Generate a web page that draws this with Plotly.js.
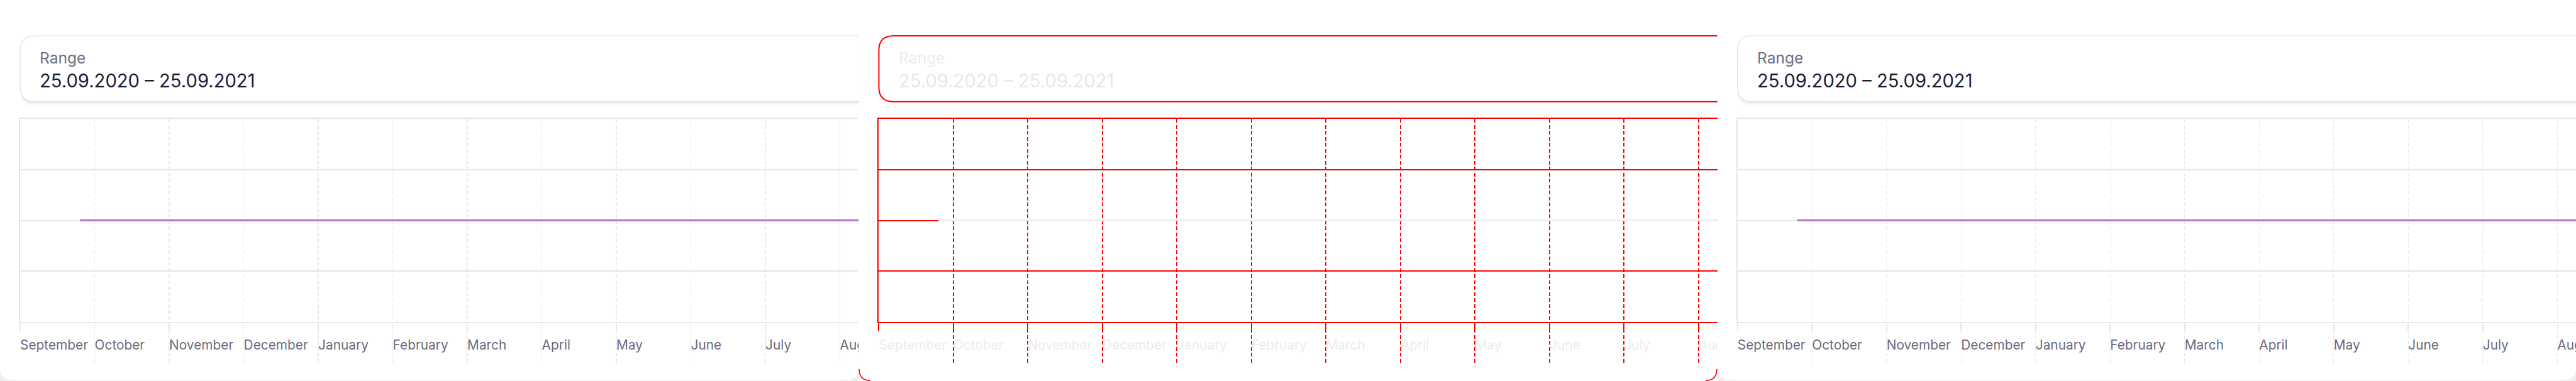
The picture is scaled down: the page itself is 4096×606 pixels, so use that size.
<!DOCTYPE html>
<html>
<head>
<meta charset="utf-8">
<script src="https://cdn.plot.ly/plotly-3.0.1.min.js"></script>
<style>
html,body{margin:0;padding:0;background:#ffffff;overflow:hidden}
#chart{width:4096px;height:606px}
</style>
</head>
<body>
<div id="chart"></div>
<script>
// ---------- data ----------
const rangeLabel = 'Range';
const rangeText = '25.09.2020 – 25.09.2021';
const monthLabels = ['September','October','November','December','January','February','March','April','May','June','July','August'];
const monthTicks = [0,1,2,3,4,5,6,7,8,9,10,11];
const seriesDates = ['2020-09-25','2021-09-25'];
const seriesValues = [0,0];
const yTicks = [-2,-1,0,1,2];
const panelKinds = ['expected','diff','received'];

// ---------- geometry (reference px, 4248x628) ----------
const RW = 4248, RH = 628, S = 0.964;
const SLOT = 1416, LEFT = 33.3;
const PLOT_TOP = 196, PLOT_BOT = 530.5;
const LABEL_TOP = 542, LABEL_BOT = 600;
const MONTH_PX = 122.9;
const PX = x => x / RW;
const PY = y => 1 - y / RH;
const P = (x, y) => PX(x).toFixed(6) + ',' + PY(y).toFixed(6);

function monthIndex(d) {
  const [y, m, day] = d.split('-').map(Number);
  const dim = new Date(y, m, 0).getDate();
  return (y - 2020) * 12 + (m - 9) + (day - 1) / dim;
}

function openCard(x0, y0, x1, y1, r) {
  return 'M' + P(x1, y0) + ' L' + P(x0 + r, y0) + ' Q' + P(x0, y0) + ' ' + P(x0, y0 + r) +
         ' L' + P(x0, y1 - r) + ' Q' + P(x0, y1) + ' ' + P(x0 + r, y1) + ' L' + P(x1, y1);
}
function outerCard(x0, y0, x1, y1, r) {
  return 'M' + P(x0, y0) + ' L' + P(x1, y0) + ' L' + P(x1, y1 - r) + ' Q' + P(x1, y1) + ' ' + P(x1 - r, y1) +
         ' L' + P(x0 + r, y1) + ' Q' + P(x0, y1) + ' ' + P(x0, y1 - r) + ' Z';
}
function arc(x0, y0, cx, cy, x1, y1) {
  return 'M' + P(x0, y0) + ' Q' + P(cx, cy) + ' ' + P(x1, y1);
}

const data = [];
const shapes = [];
const annotations = [];
const layout = {
  width: 4096, height: 606,
  margin: {l: 0, r: 0, t: 0, b: 0, pad: 0},
  paper_bgcolor: '#ffffff', plot_bgcolor: 'rgba(0,0,0,0)',
  showlegend: false, hovermode: false,
  font: {family: 'Inter, "Noto Sans", sans-serif'}
};

const xRange = [0, (SLOT - LEFT) / MONTH_PX];
const FONT = 'Inter, "Noto Sans", sans-serif';

panelKinds.forEach((kind, i) => {
  const ox = i * SLOT;
  const diff = kind === 'diff';
  const sfx = i === 0 ? '' : String(i + 1);
  const lsfx = String(i + 4);
  const lineCol = diff ? '#ff0000' : '#e6e6e6';
  const gridCol = diff ? '#ff0000' : '#e9e9e9';
  const tickFontCol = diff ? '#ececee' : '#6b6b80';

  // outer card
  if (!diff) {
    shapes.push({type: 'rect', xref: 'paper', yref: 'paper', layer: 'below',
      x0: PX(ox), x1: PX(ox + SLOT), y0: PY(628), y1: PY(596),
      fillcolor: '#efefef', line: {width: 0}});
  }
  shapes.push({type: 'path', xref: 'paper', yref: 'paper', layer: 'below',
    path: outerCard(ox, -10, ox + SLOT, 626.8, 21),
    fillcolor: '#ffffff', line: {width: 0}});
  if (diff) {
    shapes.push({type: 'path', xref: 'paper', yref: 'paper', layer: 'above',
      path: arc(ox + 0.8, 608, ox + 0.8, 627.2, ox + 19, 627.2),
      line: {color: '#ff0000', width: 1.6}});
    shapes.push({type: 'path', xref: 'paper', yref: 'paper', layer: 'above',
      path: arc(ox + SLOT - 0.8, 608, ox + SLOT - 0.8, 627.2, ox + SLOT - 19, 627.2),
      line: {color: '#ff0000', width: 1.6}});
  }

  // range card
  const cx0 = ox + LEFT, cy0 = 59, cy1 = 167.5, cx1 = ox + SLOT;
  if (!diff) {
    [[2, 0.035], [4.5, 0.03], [8, 0.02]].forEach(([dy, a]) => {
      shapes.push({type: 'path', xref: 'paper', yref: 'paper', layer: 'below',
        path: openCard(cx0, cy0 + dy, cx1, cy1 + dy, 24),
        fillcolor: 'rgba(0,0,0,' + a + ')', line: {width: 0}});
    });
  }
  shapes.push({type: 'path', xref: 'paper', yref: 'paper', layer: 'below',
    path: openCard(cx0, cy0, cx1, cy1, 24),
    fillcolor: '#ffffff', line: {color: diff ? '#ff0000' : '#e6e6e8', width: diff ? 2 : 1.6}});

  annotations.push({xref: 'paper', yref: 'paper', x: PX(ox + 63.5), y: PY(95.5),
    xanchor: 'left', yanchor: 'middle', showarrow: false, text: rangeLabel,
    font: {family: FONT, size: 25.5 * S, color: diff ? '#ececee' : '#6e6e84'}});
  annotations.push({xref: 'paper', yref: 'paper', x: PX(ox + 63.5), y: PY(133.5),
    xanchor: 'left', yanchor: 'middle', showarrow: false, text: rangeText,
    font: {family: FONT, size: 30.3 * S, color: diff ? '#e8e8ea' : '#1c1c38'}});

  // axes
  layout['xaxis' + sfx] = {
    domain: [PX(ox + LEFT), PX(ox + SLOT)], anchor: 'y' + sfx,
    range: xRange, type: 'linear', fixedrange: true,
    tickmode: 'array', tickvals: monthTicks, ticktext: monthLabels, showticklabels: false,
    ticks: 'outside', ticklen: 14 * S, tickwidth: diff ? 2 : 1.6, tickcolor: lineCol,
    showgrid: true, gridcolor: gridCol, gridwidth: diff ? 2 : 1.4, griddash: '6px,3.5px',
    showline: true, linecolor: lineCol, linewidth: 2, mirror: true,
    zeroline: false
  };
  layout['yaxis' + sfx] = {
    domain: [PY(PLOT_BOT), PY(PLOT_TOP)], anchor: 'x' + sfx,
    range: [-2, 2], fixedrange: true,
    tickmode: 'array', tickvals: yTicks, showticklabels: false, ticks: '',
    showgrid: true, gridcolor: lineCol, gridwidth: 2,
    showline: true, linecolor: lineCol, linewidth: 2, mirror: false,
    zeroline: false
  };
  // band holding the month labels (clipped to the panel like the original)
  layout['yaxis' + lsfx] = {
    domain: [PY(LABEL_BOT), PY(LABEL_TOP)], anchor: 'x' + sfx,
    range: [-1, 1], fixedrange: true, visible: false
  };

  data.push({
    type: 'scatter', mode: 'lines',
    x: seriesDates.map(monthIndex), y: seriesValues,
    xaxis: 'x' + sfx, yaxis: 'y' + sfx,
    line: {color: diff ? '#efefef' : '#b46fca', width: 3.2 * S},
    hoverinfo: 'skip'
  });

  data.push({
    type: 'scatter', mode: 'text',
    x: monthTicks, y: monthTicks.map(() => 0), text: monthLabels,
    textposition: 'middle right', cliponaxis: true,
    textfont: {family: FONT, size: 21.6 * S, color: tickFontCol},
    xaxis: 'x' + sfx, yaxis: 'y' + lsfx,
    hoverinfo: 'skip'
  });
});

layout.shapes = shapes;
layout.annotations = annotations;

Plotly.newPlot('chart', data, layout, {staticPlot: true, displayModeBar: false});
</script>
</body>
</html>
